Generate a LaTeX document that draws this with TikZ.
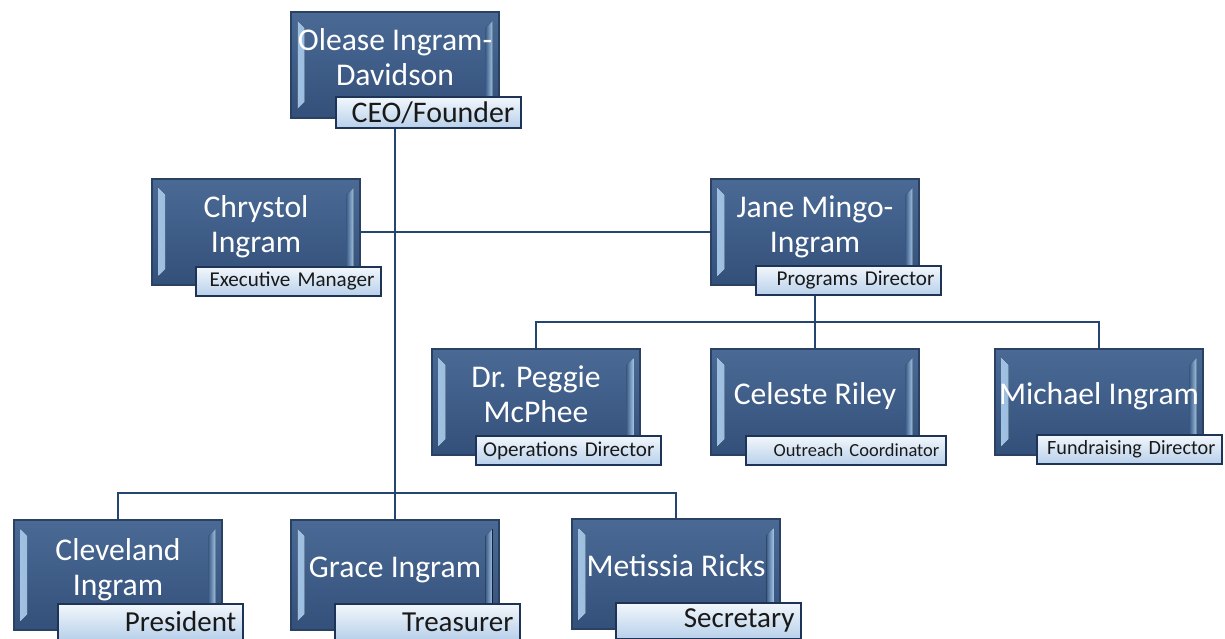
\documentclass[tikz,border=0pt]{standalone}
\usepackage{fontspec}
\setmainfont{Carlito}
\usetikzlibrary{positioning,backgrounds,calc}
\definecolor{boxblue}{HTML}{3F5E88}
\definecolor{boxtop}{HTML}{4A6A95}
\definecolor{boxbot}{HTML}{33507A}
\definecolor{boxedge}{HTML}{2A4163}
\definecolor{bevelblue}{HTML}{A3C4E4}
\definecolor{tagtop}{HTML}{F2F7FC}
\definecolor{tagbot}{HTML}{B8D0EA}
\definecolor{tagedge}{HTML}{1E3456}
\definecolor{wireblue}{HTML}{24456F}

\tikzset{
  person/.style={draw=boxedge, line width=0.7pt, top color=boxtop, bottom color=boxbot,
    minimum width=41.6mm, minimum height=21.2mm, inner sep=0pt, text=white, align=center,
    font=\fontsize{18}{19.5}\selectfont, text depth=3.2mm,
    path picture={
      \fill[left color=bevelblue, right color=boxblue]
        ([xshift=1.3mm,yshift=-1.8mm]path picture bounding box.north west) --
        ([xshift=1.3mm,yshift=1.8mm]path picture bounding box.south west) --
        ([xshift=2.7mm,yshift=3.2mm]path picture bounding box.south west) --
        ([xshift=2.7mm,yshift=-3.2mm]path picture bounding box.north west) -- cycle;
      \fill[right color=bevelblue, left color=boxblue]
        ([xshift=-1.3mm,yshift=-1.8mm]path picture bounding box.north east) --
        ([xshift=-1.3mm,yshift=1.8mm]path picture bounding box.south east) --
        ([xshift=-2.7mm,yshift=3.2mm]path picture bounding box.south east) --
        ([xshift=-2.7mm,yshift=-3.2mm]path picture bounding box.north east) -- cycle;
    }},
  role/.style={draw=tagedge, line width=0.8pt, top color=tagtop, bottom color=tagbot,
    anchor=south east, minimum height=5.8mm, inner xsep=1.3mm, inner ysep=0pt,
    text width=#1, align=right, text=black!90},
  role/.default=34.4mm,
  wire/.style={draw=wireblue, line width=1.1pt}
}

\begin{document}
\begin{tikzpicture}[x=0.2mm, y=-0.2mm]
\useasboundingbox (0,0) rectangle (1225,639);

% people
\node[person] (ceo) at (395,65) {Olease Ingram-\\Davidson};
\node[person] (chr) at (256,232) {Chrystol\\Ingram};
\node[person] (jane) at (815,232) {Jane Mingo-\\Ingram};
\node[person] (peg) at (536,402) {Dr. Peggie\\McPhee};
\node[person] (cel) at (815,402) {Celeste Riley};
\node[person] (mic) at (1099,402) {Michael Ingram};
\node[person, minimum height=22mm] (cle) at (118,575) {Cleveland\\Ingram};
\node[person, minimum height=22mm] (gra) at (395,575) {Grace Ingram};
\node[person, minimum height=22mm] (met) at (676,574) {Metissia Ricks};

% titles
\node[role, minimum height=6.2mm, font=\fontsize{17}{20}\selectfont] (ceoT) at ([shift={(4.4mm,-2mm)}]ceo.south east) {CEO/Founder};
\node[role, font=\fontsize{12}{14}\selectfont] (chrT) at ([shift={(4.2mm,-2.2mm)}]chr.south east) {Executive Manager};
\node[role, font=\fontsize{12}{14}\selectfont] (janeT) at ([shift={(4.4mm,-2mm)}]jane.south east) {Programs Director};
\node[role, font=\fontsize{12}{14}\selectfont] (pegT) at ([shift={(4.2mm,-2mm)}]peg.south east) {Operations Director};
\node[role=37.4mm, font=\fontsize{10.5}{12}\selectfont] (celT) at ([shift={(5.4mm,-2mm)}]cel.south east) {Outreach Coordinator};
\node[role, font=\fontsize{11.5}{14}\selectfont] (micT) at ([shift={(3.8mm,-1.8mm)}]mic.south east) {Fundraising Director};
\node[role, minimum height=7.2mm, font=\fontsize{16.5}{19}\selectfont] (cleT) at ([shift={(4.2mm,-2mm)}]cle.south east) {President};
\node[role, minimum height=7.2mm, font=\fontsize{16.5}{19}\selectfont] (graT) at ([shift={(4.2mm,-2mm)}]gra.south east) {Treasurer};
\node[role, minimum height=7.2mm, font=\fontsize{16.5}{19}\selectfont] (metT) at ([shift={(4.2mm,-2mm)}]met.south east) {Secretary};

% connectors
\coordinate (jb) at (815,322);
\coordinate (bb) at (395,493);
\begin{scope}[on background layer]
\draw[wire] (ceo.south) -- (bb);
\draw[wire] (chr.east) -- (jane.west);
\draw[wire] (jane.south) -- (jb);
\draw[wire] (peg.north) |- (jb) -| (mic.north);
\draw[wire] (cel.north) -- (jb);
\draw[wire] (cle.north) |- (bb) -| (met.north);
\draw[wire] (gra.north) -- (bb);
\end{scope}
\end{tikzpicture}
\end{document}
